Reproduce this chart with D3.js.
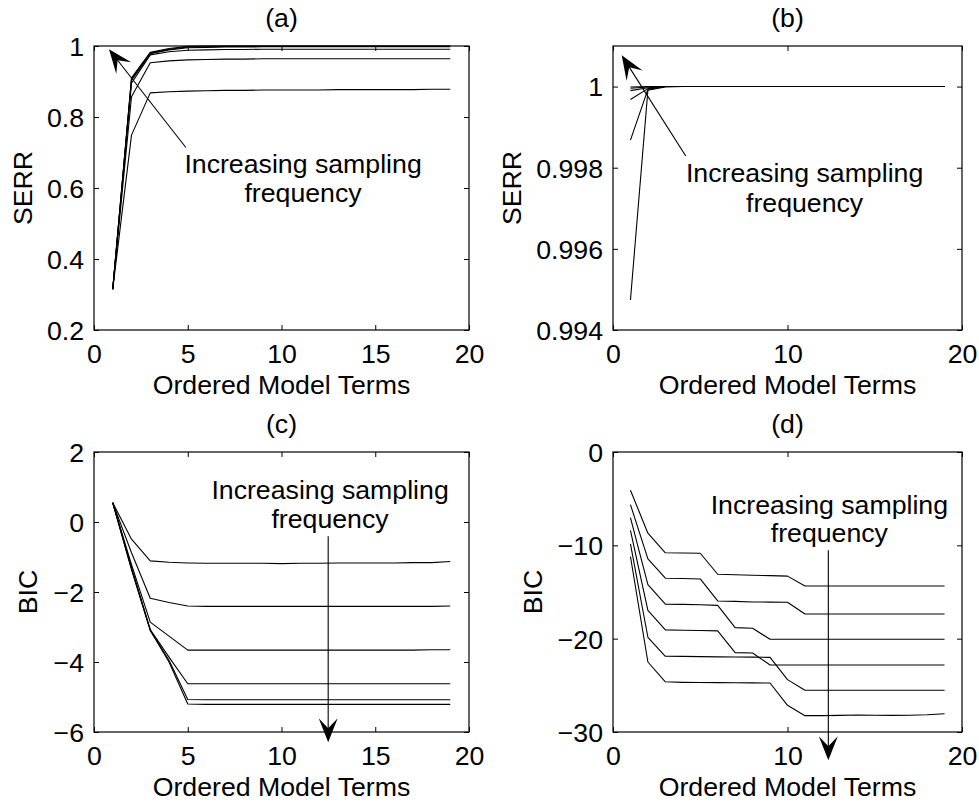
<!DOCTYPE html>
<html><head><meta charset="utf-8">
<script src="https://cdn.jsdelivr.net/npm/d3@7/dist/d3.min.js"></script>
<style>
body{margin:0;background:#fff;}
svg{display:block;}
text{font-family:"Liberation Sans",Arial,Helvetica,sans-serif;fill:#000;}
</style>
</head><body>
<svg id="chart" width="979" height="803"></svg>
<script>
// ---------- DATA ----------
const terms = [1,2,3,4,5,6,7,8,9,10,11,12,13,14,15,16,17,18,19];

// (a) SERR, six sampling frequencies (low -> high)
const serrA1 = [0.315,0.749,0.868,0.871,0.873,0.874,0.875,0.875,0.876,0.876,0.876,0.876,0.877,0.877,0.877,0.877,0.877,0.878,0.878];
const serrA2 = [0.315,0.857,0.953,0.958,0.961,0.962,0.963,0.963,0.964,0.964,0.964,0.964,0.964,0.964,0.964,0.964,0.964,0.964,0.964];
const serrA3 = [0.315,0.895,0.975,0.984,0.988,0.989,0.990,0.990,0.991,0.991,0.991,0.991,0.991,0.991,0.991,0.991,0.991,0.991,0.991];
const serrA4 = [0.315,0.903,0.978,0.989,0.995,0.996,0.997,0.997,0.998,0.998,0.998,0.998,0.998,0.998,0.998,0.998,0.998,0.998,0.998];
const serrA5 = [0.315,0.907,0.980,0.991,0.997,0.998,0.999,0.999,0.999,0.999,0.999,0.999,0.999,0.999,0.999,0.999,0.999,0.999,0.999];
const serrA6 = [0.315,0.910,0.982,0.993,0.999,1.000,1.000,1.000,1.000,1.000,1.000,1.000,1.000,1.000,1.000,1.000,1.000,1.000,1.000];

// (b) SERR
const serrB1 = [0.99474,0.99991,0.99999,1,1,1,1,1,1,1,1,1,1,1,1,1,1,1,1];
const serrB2 = [0.99868,0.99993,1,1,1,1,1,1,1,1,1,1,1,1,1,1,1,1,1];
const serrB3 = [0.99968,0.99995,1,1,1,1,1,1,1,1,1,1,1,1,1,1,1,1,1];
const serrB4 = [0.99990,0.99997,1,1,1,1,1,1,1,1,1,1,1,1,1,1,1,1,1];
const serrB5 = [0.99996,0.99999,1,1,1,1,1,1,1,1,1,1,1,1,1,1,1,1,1];
const serrB6 = [0.99999,1,1,1,1,1,1,1,1,1,1,1,1,1,1,1,1,1,1];

// (c) BIC
const bicC1 = [0.55,-0.49,-1.11,-1.15,-1.17,-1.18,-1.18,-1.18,-1.18,-1.19,-1.18,-1.18,-1.17,-1.17,-1.17,-1.17,-1.16,-1.16,-1.13];
const bicC2 = [0.55,-0.88,-2.18,-2.30,-2.40,-2.41,-2.41,-2.41,-2.41,-2.41,-2.41,-2.41,-2.41,-2.41,-2.41,-2.41,-2.41,-2.41,-2.40];
const bicC3 = [0.55,-1.22,-2.86,-3.26,-3.66,-3.66,-3.66,-3.66,-3.66,-3.66,-3.66,-3.66,-3.66,-3.66,-3.66,-3.66,-3.66,-3.65,-3.65];
const bicC4 = [0.55,-1.30,-3.07,-3.86,-4.62,-4.62,-4.62,-4.62,-4.62,-4.62,-4.62,-4.62,-4.62,-4.62,-4.62,-4.62,-4.62,-4.62,-4.62];
const bicC5 = [0.55,-1.33,-3.09,-3.95,-5.07,-5.08,-5.08,-5.08,-5.08,-5.08,-5.08,-5.08,-5.08,-5.08,-5.08,-5.08,-5.08,-5.08,-5.08];
const bicC6 = [0.55,-1.36,-3.10,-4.00,-5.20,-5.21,-5.21,-5.21,-5.21,-5.21,-5.21,-5.21,-5.21,-5.21,-5.21,-5.21,-5.21,-5.21,-5.21];

// (d) BIC
const bicD1 = [-4.1,-8.7,-10.8,-10.82,-10.85,-13.1,-13.15,-13.2,-13.25,-13.3,-14.36,-14.36,-14.36,-14.36,-14.36,-14.36,-14.36,-14.36,-14.36];
const bicD2 = [-5.64,-11.45,-13.52,-13.56,-13.6,-15.96,-16.0,-16.07,-16.08,-16.1,-17.36,-17.36,-17.36,-17.36,-17.36,-17.36,-17.36,-17.36,-17.36];
const bicD3 = [-7.04,-14.2,-16.3,-16.33,-16.36,-16.43,-18.82,-18.89,-20.07,-20.07,-20.07,-20.07,-20.07,-20.07,-20.07,-20.07,-20.07,-20.07,-20.07];
const bicD4 = [-8.4,-16.98,-19.06,-19.1,-19.12,-19.16,-21.5,-21.53,-22.82,-22.82,-22.82,-22.82,-22.82,-22.82,-22.82,-22.82,-22.82,-22.82,-22.82];
const bicD5 = [-9.84,-19.85,-21.89,-21.9,-21.92,-21.95,-21.97,-21.98,-22.0,-24.39,-25.53,-25.53,-25.53,-25.53,-25.53,-25.53,-25.53,-25.53,-25.53];
const bicD6 = [-11.2,-22.5,-24.62,-24.68,-24.7,-24.71,-24.72,-24.74,-24.75,-27.14,-28.25,-28.25,-28.22,-28.18,-28.2,-28.22,-28.2,-28.15,-28.05];

// tick values and labels
const xTicks5 = [0,5,10,15,20];
const xTicks10 = [0,10,20];
const yTicksA = [0.2,0.4,0.6,0.8,1];
const yTickLabelsA = ["0.2","0.4","0.6","0.8","1"];
const yTicksB = [0.994,0.996,0.998,1];
const yTickLabelsB = ["0.994","0.996","0.998","1"];
const yTicksC = [-6,-4,-2,0,2];
const yTickLabelsC = ["\u22126","\u22124","\u22122","0","2"];
const yTicksD = [-30,-20,-10,0];
const yTickLabelsD = ["\u221230","\u221220","\u221210","0"];

const titles = ["(a)","(b)","(c)","(d)"];
const yLabels = ["SERR","SERR","BIC","BIC"];
const xLabel = "Ordered Model Terms";
const annotationLines = ["Increasing sampling","frequency"];

// ---------- LAYOUT ----------
const panels = [
  {title:titles[0], ylabel:yLabels[0], left:94, right:469, top:46, bottom:330, yDomain:[0.2,1],
   xTicks:xTicks5, yTicks:yTicksA, yTickLabels:yTickLabelsA, ylabelX:32,
   series:[serrA1,serrA2,serrA3,serrA4,serrA5,serrA6],
   ann:{tx:11.15, ty1:0.642, ty2:0.5606, tail:[4.9,0.714], tip:[0.8,0.991]}},
  {title:titles[1], ylabel:yLabels[1], left:613, right:962, top:46, bottom:330, yDomain:[0.994,1.001],
   xTicks:xTicks10, yTicks:yTicksB, yTickLabels:yTickLabelsB, ylabelX:521,
   series:[serrB1,serrB2,serrB3,serrB4,serrB5,serrB6],
   ann:{tx:10.98, ty1:0.997639, ty2:0.99692, tail:[4.17,0.99829], tip:[0.5,1.00077]}},
  {title:titles[2], ylabel:yLabels[2], left:94, right:469, top:452, bottom:732, yDomain:[-6,2],
   xTicks:xTicks5, yTicks:yTicksC, yTickLabels:yTickLabelsC, ylabelX:37,
   series:[bicC1,bicC2,bicC3,bicC4,bicC5,bicC6],
   ann:{tx:12.59, ty1:0.649, ty2:-0.18, tail:[12.49,-0.41], tip:[12.49,-6.29]}},
  {title:titles[3], ylabel:yLabels[3], left:613, right:962, top:452, bottom:732, yDomain:[-30,0],
   xTicks:xTicks10, yTicks:yTicksD, yTickLabels:yTickLabelsD, ylabelX:542,
   series:[bicD1,bicD2,bicD3,bicD4,bicD5,bicD6],
   ann:{tx:12.4, ty1:-6.675, ty2:-9.675, tail:[12.34,-10.53], tip:[12.34,-33.03]}}
];

const FS = 26.7;
const TICK = 5;
const svg = d3.select("#chart");

function arrow(g, x0, y0, x1, y1){
  const dx = x1-x0, dy = y1-y0, L = Math.hypot(dx,dy);
  const ux = dx/L, uy = dy/L, px = -uy, py = ux;
  const hl = 24, hw = 9.5, notch = 14;
  const nx = x1-ux*notch, ny = y1-uy*notch;
  g.append("line").attr("x1",x0).attr("y1",y0).attr("x2",nx).attr("y2",ny)
    .attr("stroke","#000").attr("stroke-width",1.1);
  const pts = [[x1,y1],[x1-ux*hl+px*hw, y1-uy*hl+py*hw],[nx,ny],[x1-ux*hl-px*hw, y1-uy*hl-py*hw]];
  g.append("polygon").attr("points",pts.map(p=>p.join(",")).join(" ")).attr("fill","#000");
}

panels.forEach(p=>{
  const x = d3.scaleLinear().domain([0,20]).range([p.left,p.right]);
  const y = d3.scaleLinear().domain(p.yDomain).range([p.bottom,p.top]);
  const g = svg.append("g");

  // data lines
  const line = d3.line().x((d,i)=>x(terms[i])).y(d=>y(d));
  p.series.forEach(s=>{
    g.append("path").attr("d",line(s)).attr("fill","none")
      .attr("stroke","#000").attr("stroke-width",1.1).attr("stroke-linejoin","round");
  });

  // box
  g.append("rect").attr("x",p.left).attr("y",p.top)
    .attr("width",p.right-p.left).attr("height",p.bottom-p.top)
    .attr("fill","none").attr("stroke","#000").attr("stroke-width",1.2);

  // axes (inward ticks on all four sides)
  const fmtY = d=>p.yTickLabels[p.yTicks.indexOf(d)];
  const axB = g.append("g").attr("transform",`translate(0,${p.bottom})`)
    .call(d3.axisBottom(x).tickValues(p.xTicks).tickSize(-TICK).tickFormat(d3.format("d")));
  const axT = g.append("g").attr("transform",`translate(0,${p.top})`)
    .call(d3.axisTop(x).tickValues(p.xTicks).tickSize(-TICK).tickFormat(""));
  const axL = g.append("g").attr("transform",`translate(${p.left},0)`)
    .call(d3.axisLeft(y).tickValues(p.yTicks).tickSize(-TICK).tickFormat(fmtY));
  const axR = g.append("g").attr("transform",`translate(${p.right},0)`)
    .call(d3.axisRight(y).tickValues(p.yTicks).tickSize(-TICK).tickFormat(""));
  [axB,axT,axL,axR].forEach(a=>{
    a.select(".domain").remove();
    a.selectAll(".tick line").attr("stroke","#000").attr("stroke-width",1);
    a.selectAll("text").style("font-size",FS+"px").attr("fill","#000")
      .style("font-family",'"Liberation Sans",Arial,Helvetica,sans-serif');
  });
  axB.selectAll(".tick text").attr("dy",null).attr("y",33);
  axL.selectAll(".tick text").attr("x",-10).attr("dy","0.35em");

  // title
  g.append("text").attr("x",(p.left+p.right)/2).attr("y",p.top-19)
    .attr("text-anchor","middle").style("font-size",FS+"px").text(p.title);
  // x label
  g.append("text").attr("x",(p.left+p.right)/2).attr("y",p.bottom+64)
    .attr("text-anchor","middle").style("font-size",FS+"px").text(xLabel);
  // y label
  g.append("text").attr("transform",`translate(${p.ylabelX},${(p.top+p.bottom)/2}) rotate(-90)`)
    .attr("text-anchor","middle").style("font-size",FS+"px").text(p.ylabel);

  // annotation
  const a = p.ann;
  g.append("text").attr("x",x(a.tx)).attr("y",y(a.ty1)).attr("text-anchor","middle")
    .style("font-size",FS+"px").text(annotationLines[0]);
  g.append("text").attr("x",x(a.tx)).attr("y",y(a.ty2)).attr("text-anchor","middle")
    .style("font-size",FS+"px").text(annotationLines[1]);
  arrow(g, x(a.tail[0]), y(a.tail[1]), x(a.tip[0]), y(a.tip[1]));
});
</script>
</body></html>
